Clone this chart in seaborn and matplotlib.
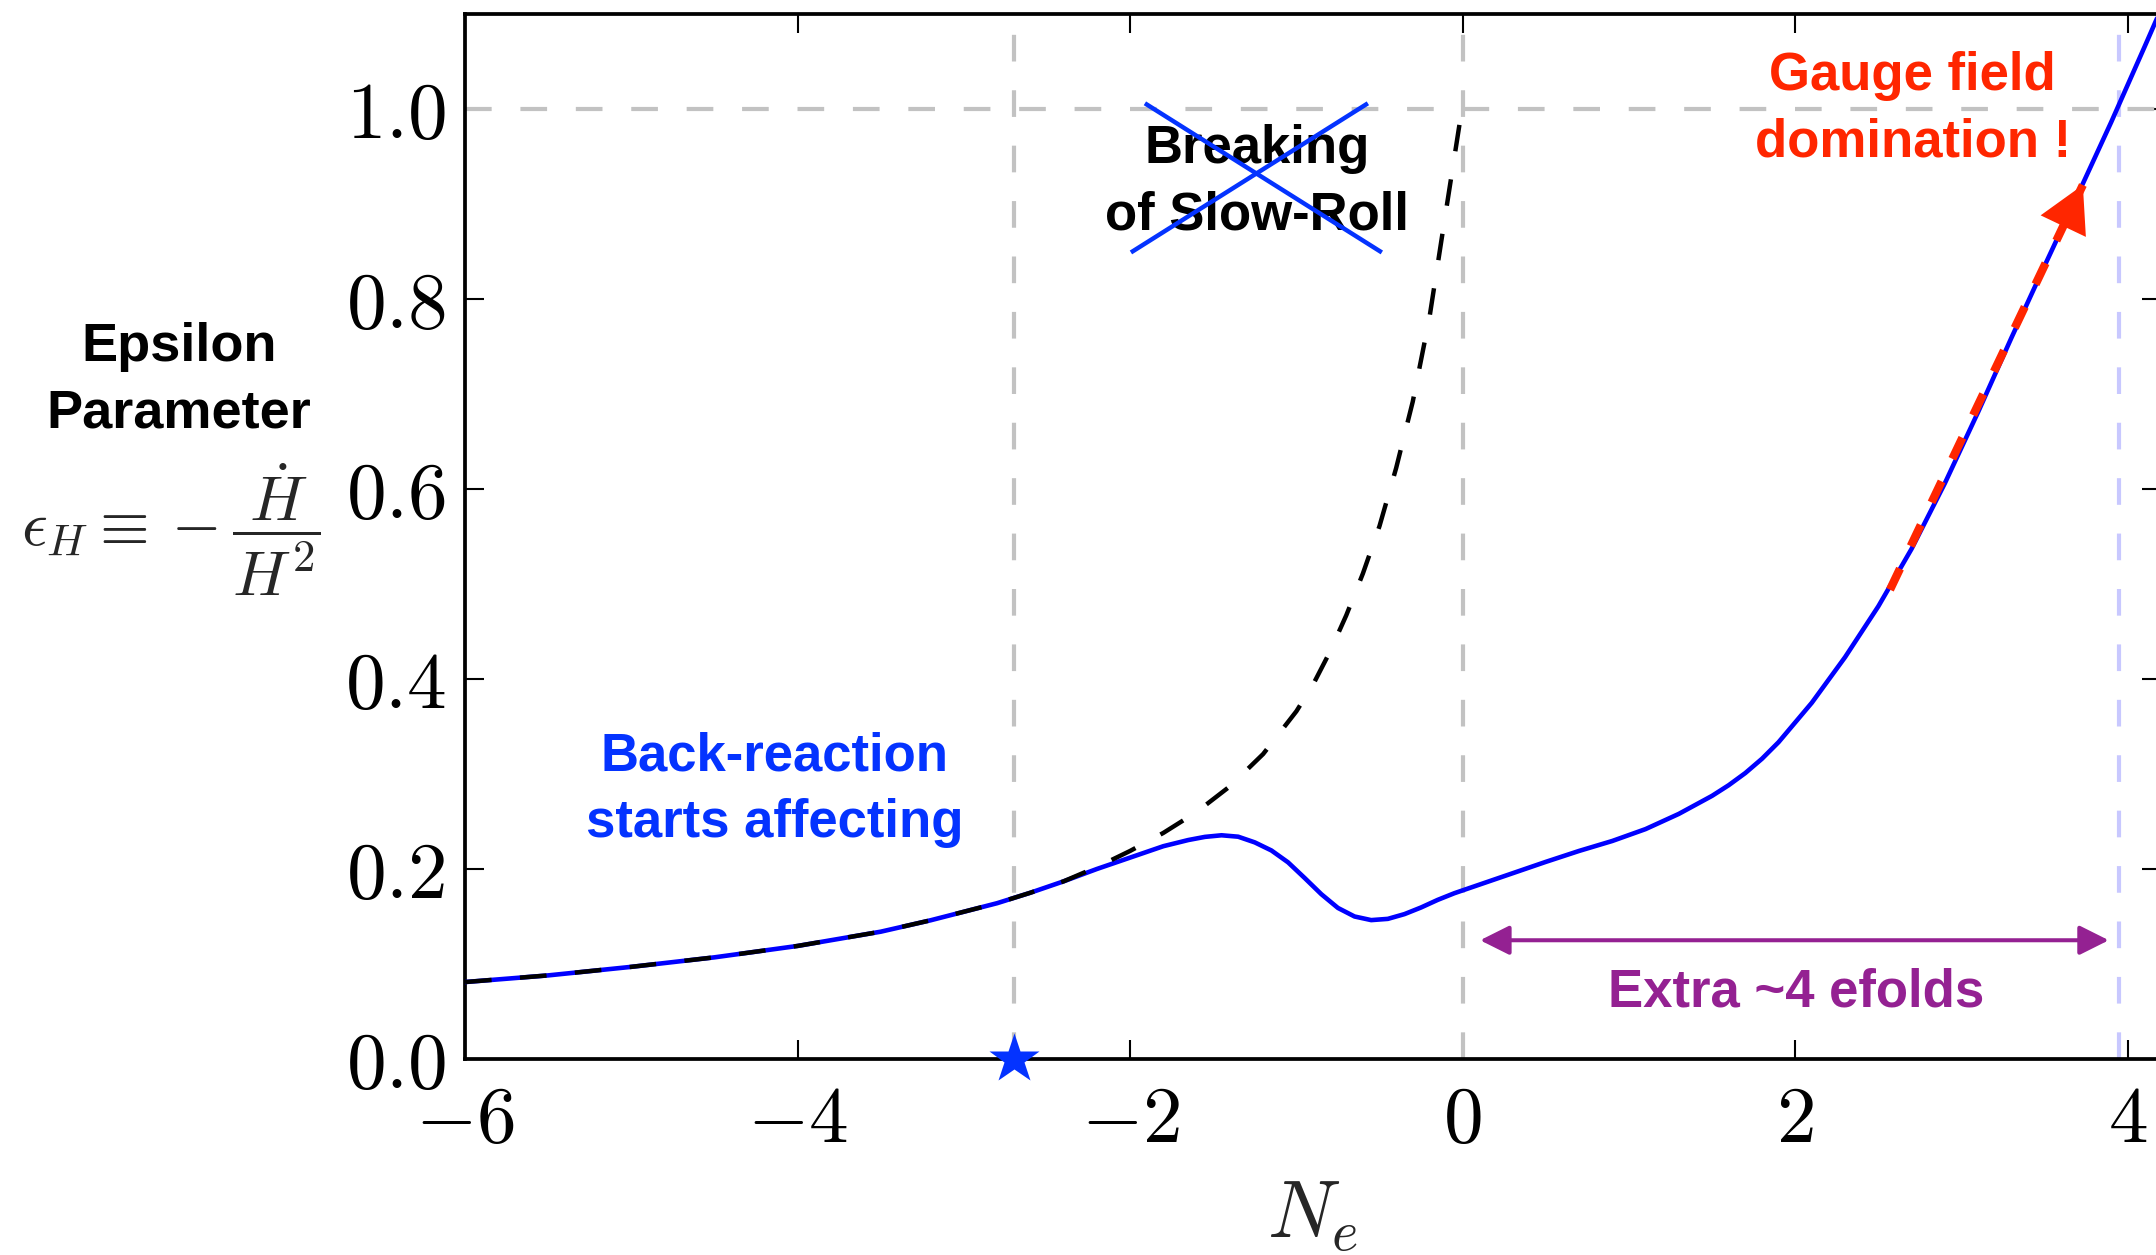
import matplotlib
matplotlib.use("Agg")
import numpy as np
import pandas as pd
import matplotlib.pyplot as plt
import seaborn as sns

# e-folds N_e and epsilon_H including gauge-field back-reaction
n_backreaction = [-6.0, -5.5, -5.0, -4.5, -4.0, -3.5, -3.2, -3.0, -2.8, -2.6,
                  -2.4, -2.2, -2.0, -1.8, -1.65, -1.55, -1.45, -1.35, -1.25, -1.15,
                  -1.05, -0.95, -0.85, -0.75, -0.65, -0.55, -0.45, -0.35, -0.25, -0.15,
                  -0.05, 0.1, 0.3, 0.5, 0.7, 0.9, 1.1, 1.3, 1.5, 1.6,
                  1.7, 1.8, 1.9, 2.1, 2.3, 2.5, 2.7, 2.9, 3.1, 3.3,
                  3.5, 3.7, 3.9, 4.1, 4.2]
eps_backreaction = [0.081, 0.088, 0.097, 0.107, 0.119, 0.134, 0.146, 0.155, 0.164, 0.175,
                    0.187, 0.200, 0.212, 0.224, 0.2305, 0.2338, 0.2355, 0.2340, 0.2280, 0.2195,
                    0.2070, 0.1905, 0.1735, 0.1590, 0.1500, 0.1462, 0.1475, 0.1525, 0.1595, 0.1675,
                    0.1745, 0.1835, 0.1955, 0.2075, 0.2190, 0.2295, 0.2420, 0.2580, 0.2770, 0.2882,
                    0.3010, 0.3160, 0.3335, 0.3750, 0.4230, 0.4765, 0.5370, 0.6060, 0.6810, 0.7590,
                    0.8350, 0.9100, 0.9860, 1.0650, 1.1050]

# e-folds N_e and epsilon_H for pure slow roll (no back-reaction)
n_slowroll = [-6.0, -5.5, -5.0, -4.5, -4.0, -3.5, -3.2, -3.0, -2.8, -2.6,
              -2.4, -2.2, -2.0, -1.8, -1.6, -1.4, -1.2, -1.0, -0.9, -0.8,
              -0.7, -0.6, -0.5, -0.4, -0.3, -0.2, -0.1, 0.0]
eps_slowroll = [0.081, 0.088, 0.097, 0.107, 0.119, 0.134, 0.146, 0.155, 0.164, 0.175,
                0.187, 0.202, 0.219, 0.238, 0.260, 0.287, 0.321, 0.366, 0.394, 0.428,
                0.467, 0.511, 0.561, 0.622, 0.692, 0.780, 0.893, 1.005]

x_ticks = [-6, -4, -2, 0, 2, 4]
y_ticks = [0.0, 0.2, 0.4, 0.6, 0.8, 1.0]

n_backreaction_onset = -2.7
n_slowroll_end = 0.0
n_inflation_end = 3.95
eps_inflation_end = 1.0

extra_efolds_start = 0.105
extra_efolds_end = 3.886
extra_efolds_level = 0.125

gauge_arrow_n = [2.57, 3.73]
gauge_arrow_eps = [0.494, 0.92]

cross_a_n = [-1.911, -0.486]
cross_a_eps = [1.006, 0.849]
cross_b_n = [-1.995, -0.570]
cross_b_eps = [0.849, 1.006]

BLUE_LINE = "#0000FF"
BLUE_TEXT = "#0433FF"
RED = "#FF2600"
PURPLE = "#942192"
GRAY = "#C2C2C2"
LAVENDER = "#C8C8FF"

sns.set_style("ticks")
plt.rcParams["font.family"] = ["Liberation Sans", "DejaVu Sans"]
plt.rcParams["mathtext.fontset"] = "cm"

W, H = 2156, 1255
fig = plt.figure(figsize=(W / 100, H / 100), dpi=100)
ax_left, ax_right, ax_top, ax_bottom = 465, 2161, 14, 1059
ax = fig.add_axes([ax_left / W, 1 - ax_bottom / H,
                   (ax_right - ax_left) / W, (ax_bottom - ax_top) / H])

# reference guides
ax.axhline(eps_inflation_end, color=GRAY, lw=3.0, dashes=(6.4, 6.9), zorder=1)
ax.axvline(n_backreaction_onset, color=GRAY, lw=3.0, dashes=(6.4, 6.9), zorder=1)
ax.axvline(n_slowroll_end, color=GRAY, lw=3.0, dashes=(6.4, 6.9), zorder=1)
ax.axvline(n_inflation_end, color=LAVENDER, lw=3.0, dashes=(6.4, 6.9), zorder=1)

df_br = pd.DataFrame({"N": n_backreaction, "eps": eps_backreaction})
df_sr = pd.DataFrame({"N": n_slowroll, "eps": eps_slowroll})

sns.lineplot(data=df_br, x="N", y="eps", ax=ax, color=BLUE_LINE, lw=3.3,
             errorbar=None, sort=False, zorder=3)
ax.lines[-1].set_solid_joinstyle("round")
sns.lineplot(data=df_sr, x="N", y="eps", ax=ax, color="black", lw=3.2,
             errorbar=None, sort=False, zorder=4)
ax.lines[-1].set_dashes((6.0, 6.4))

# gauge-field domination arrow: dashed shaft + solid head
ax.plot(gauge_arrow_n, gauge_arrow_eps, color=RED, lw=6.0, dashes=(2.8, 3.0),
        solid_capstyle="butt", dash_capstyle="butt", zorder=5)
tail_frac = 0.12
head_from = (gauge_arrow_n[1] - tail_frac * (gauge_arrow_n[1] - gauge_arrow_n[0]),
             gauge_arrow_eps[1] - tail_frac * (gauge_arrow_eps[1] - gauge_arrow_eps[0]))
ax.annotate("", xy=(gauge_arrow_n[1], gauge_arrow_eps[1]), xytext=head_from,
            arrowprops=dict(arrowstyle="-|>,head_length=0.4,head_width=0.22",
                            color=RED, lw=0.0, shrinkA=0, shrinkB=0,
                            mutation_scale=82), zorder=6)

# extra e-folds double arrow
ax.annotate("", xy=(extra_efolds_end, extra_efolds_level),
            xytext=(extra_efolds_start, extra_efolds_level),
            arrowprops=dict(arrowstyle="<|-|>,head_length=0.4,head_width=0.2",
                            color=PURPLE, lw=2.9, shrinkA=0, shrinkB=0,
                            mutation_scale=45), zorder=5)

# crossed-out label
ax.plot(cross_a_n, cross_a_eps, color=BLUE_TEXT, lw=3.2, zorder=7, solid_capstyle="butt")
ax.plot(cross_b_n, cross_b_eps, color=BLUE_TEXT, lw=3.2, zorder=7, solid_capstyle="butt")

# onset of back-reaction marker
ax.plot([n_backreaction_onset], [0.0], marker="*", ms=38, color=BLUE_TEXT,
        mec="none", clip_on=False, zorder=10)

line_step = 66.5 / 950.0


def stacked(x, y0, lines, color, size, step=line_step, transform=None, z=8):
    kw = dict(ha="center", va="baseline", color=color, fontsize=size,
              fontweight="bold", family=["Liberation Sans", "DejaVu Sans"], zorder=z)
    for i, s in enumerate(lines):
        if transform is None:
            ax.text(x, y0 - i * step, s, **kw)
        else:
            fig.text(x, y0 - i * step, s, transform=transform, **kw)


stacked(2.707, 1.020, ["Gauge field", "domination !"], RED, 38)
stacked(-1.237, 0.943, ["Breaking", "of Slow-Roll"], "black", 38, z=6)
stacked(-4.139, 0.3035, ["Back-reaction", "starts affecting"], BLUE_TEXT, 38)
stacked(2.004, 0.055, ["Extra ~4 efolds"], PURPLE, 38)

# y-axis description
stacked(179 / W, 1 - 361 / H, ["Epsilon", "Parameter"], "black", 39,
        step=66.0 / H, transform=fig.transFigure)
fig.text(171 / W, 1 - 546 / H, r"$\epsilon_H \equiv - \dfrac{\dot{H}}{H^2}$",
         ha="center", va="baseline", fontsize=46)

ax.set_xlim(-6, 4.2)
ax.set_ylim(0, 1.1)
ax.set_xticks(x_ticks)
ax.set_xticklabels([rf"${t}$" if t >= 0 else rf"$-{abs(t)}$" for t in x_ticks])
ax.set_yticks(y_ticks)
ax.set_yticklabels([rf"${t:.1f}$" for t in y_ticks])
ax.tick_params(axis="both", direction="in", top=True, right=True,
               length=13.5, width=1.5, labelsize=57, colors="black")
ax.tick_params(axis="x", pad=18)
ax.tick_params(axis="y", pad=14)
ax.set_xlabel(r"$N_e$", fontsize=58, labelpad=14)
ax.set_ylabel("")
for sp in ax.spines.values():
    sp.set_visible(True)
    sp.set_linewidth(2.7)
    sp.set_color("black")

fig.savefig("out.png", dpi=100)
